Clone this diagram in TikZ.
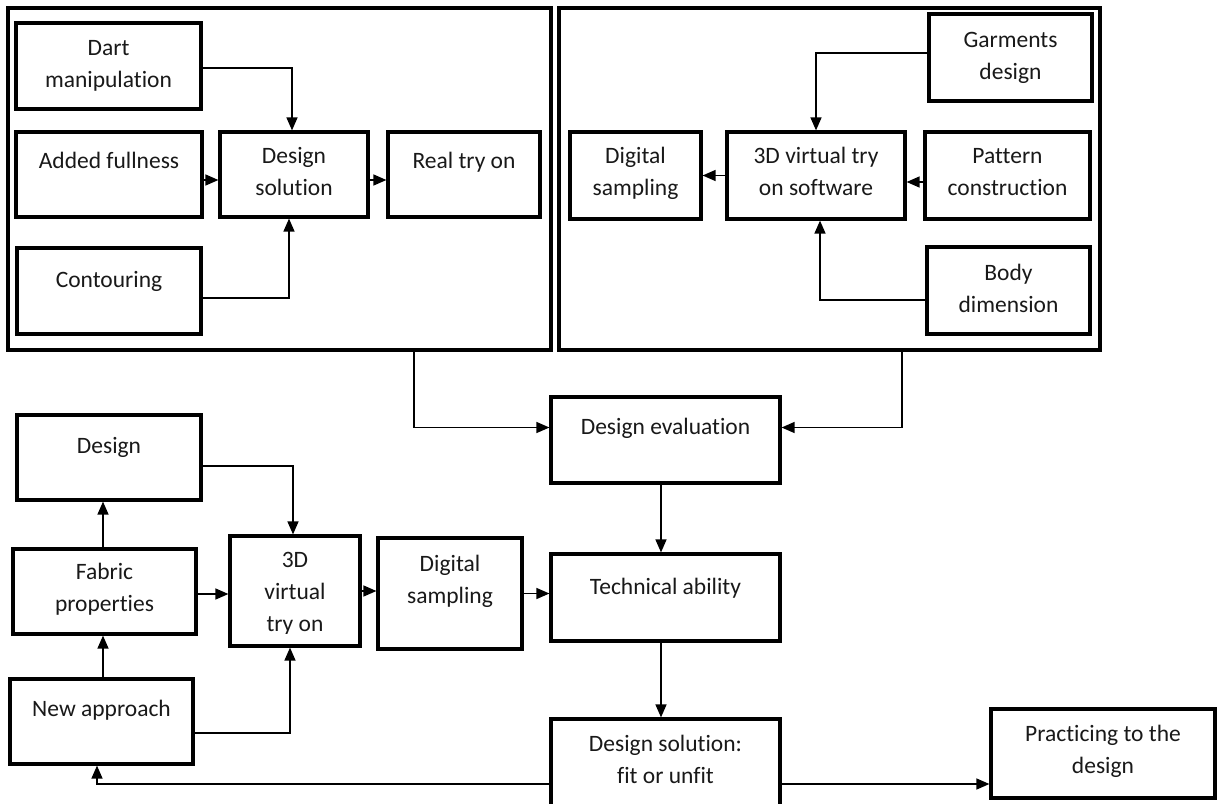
\documentclass[tikz,border=0pt]{standalone}
\usepackage{fontspec}
\setmainfont{Carlito}[Ligatures={NoCommon}]
\usetikzlibrary{arrows.meta}
\newcommand{\bx}[4]{\parbox[c][#2pt][t]{#1pt}{\centering\rule{0pt}{#3pt}#4}}
\begin{document}
\begin{tikzpicture}[x=1pt,y=-1pt,
  box/.style={draw=black, line width=3.2pt, inner sep=0pt, text=black!90, font=\fontsize{23.5}{32}\selectfont},
  frame/.style={draw=black, line width=3.2pt, inner sep=0pt},
  conn/.style={draw=black, line width=1.4pt},
  arr/.style={conn, -{Triangle[length=13pt,width=11pt]}}]
\useasboundingbox (0,0) rectangle (1217,803);
\fill[white] (0,0) rectangle (1217,803);
\clip (0,0) rectangle (1217,803);

% frames
\node[frame, minimum width=543pt, minimum height=342pt] (outerL) at (279.5,179) {};
\node[frame, minimum width=541pt, minimum height=342pt] (outerR) at (829.5,179) {};

% left panel
\node[box] (dart) at (108.5,66) {\bx{185}{86}{32.5}{Dart\\manipulation}};
\node[box] (full) at (109,174.5) {\bx{186}{85}{36.5}{Added fullness}};
\node[box] (ds) at (294,174.5) {\bx{148}{85}{31.5}{Design\\solution}};
\node[box] (real) at (464,174.5) {\bx{152}{85}{36.5}{Real try on}};
\node[box] (cont) at (109,291) {\bx{184}{86}{39.5}{Contouring}};

% right panel
\node[box] (garm) at (1010.5,57.5) {\bx{163}{87}{33.5}{Garments\\design}};
\node[box] (dsamp) at (635.5,175.5) {\bx{131}{87}{31.5}{Digital\\sampling}};
\node[box] (soft) at (816,175.5) {\bx{178}{87}{31.5}{3D virtual try\\on software}};
\node[box] (patt) at (1007.5,175.5) {\bx{165}{87}{31.5}{Pattern\\construction}};
\node[box] (body) at (1008.5,290.5) {\bx{163}{87}{33.5}{Body\\dimension}};

% lower part
\node[box] (design) at (109,457.5) {\bx{184}{85}{38.5}{Design}};
\node[box] (fab) at (104.5,591.5) {\bx{183}{85}{30.5}{Fabric\\properties}};
\node[box] (newap) at (101.5,721.5) {\bx{183}{85}{37.5}{New approach}};
\node[box] (vt) at (295,591) {\bx{130}{110}{0}{}};
\begin{scope}
\clip (225,530) rectangle (365,633);
\node[box, draw=none] (vt-t) at (295,591) {\bx{130}{110}{31.5}{3D\\virtual\\try on}};
\end{scope}
\node[box] (dsl) at (450,593.5) {\bx{144}{111}{33.5}{Digital\\sampling}};
\node[box] (eval) at (665.5,440) {\bx{229}{86}{37.5}{Design evaluation}};
\node[box] (tech) at (665.5,597.5) {\bx{229}{87}{40.5}{Technical ability}};
\node[box] (fit) at (665.5,774.5) {\bx{229}{111}{32.5}{Design solution:\\fit or unfit}};
\node[box] (prac) at (1103,753.5) {\bx{224}{89}{32.5}{Practicing to the\\design}};

% connectors left panel
\draw[arr] ([yshift=-2pt]dart.east) -| ([xshift=-2pt]ds.north);
\draw[arr] ([yshift=-5.5pt]full.east) -- ([yshift=-5.5pt]ds.west);
\draw[arr] ([yshift=-7pt]cont.east) -| ([xshift=-5pt]ds.south);
\draw[arr] ([yshift=-5.5pt]ds.east) -- ([yshift=-5.5pt]real.west);

% connectors right panel
\draw[arr] ([yshift=4.5pt]garm.west) -| (soft.north);
\draw[arr] (soft.west) -- (dsamp.east);
\draw[arr] ([yshift=-6.5pt]patt.west) -- ([yshift=-6.5pt]soft.east);
\draw[arr] ([yshift=-9.5pt]body.west) -| ([xshift=4pt]soft.south);

% frames to evaluation
\draw[arr] ([xshift=134.5pt]outerL.south) |- ([yshift=12.5pt]eval.west);
\draw[arr] ([xshift=72.5pt]outerR.south) |- ([yshift=12.5pt]eval.east);
\draw[arr] ([xshift=-4.5pt]eval.south) -- ([xshift=-4.5pt]tech.north);
\draw[arr] ([xshift=-4.5pt]tech.south) -- ([xshift=-4.5pt]fit.north);

% lower left
\draw[arr] ([yshift=-8.5pt]design.east) -| ([xshift=-2pt]vt.north);
\draw[arr] ([xshift=-1.5pt]fab.north) -- ([xshift=-1.5pt]fab.north |- design.south);
\draw[arr] ([xshift=1.5pt]newap.north) -- ([xshift=1.5pt]newap.north |- fab.south);
\draw[arr] ([yshift=-2.5pt]fab.east) -- ([yshift=-2.5pt]fab.east -| vt.west);
\draw[arr] ([yshift=-11.5pt]newap.east) -| ([xshift=-5pt]vt.south);
\draw[arr] (vt.east) -- (vt.east -| dsl.west);
\draw[arr] (dsl.east) -- (dsl.east -| tech.west);
\draw[arr] ([yshift=-9.5pt]fit.west) -| ([xshift=-4.5pt]newap.south);
\draw[arr] ([yshift=-9.5pt]fit.east) -- ([yshift=-9.5pt]fit.east -| prac.west);
\end{tikzpicture}
\end{document}
